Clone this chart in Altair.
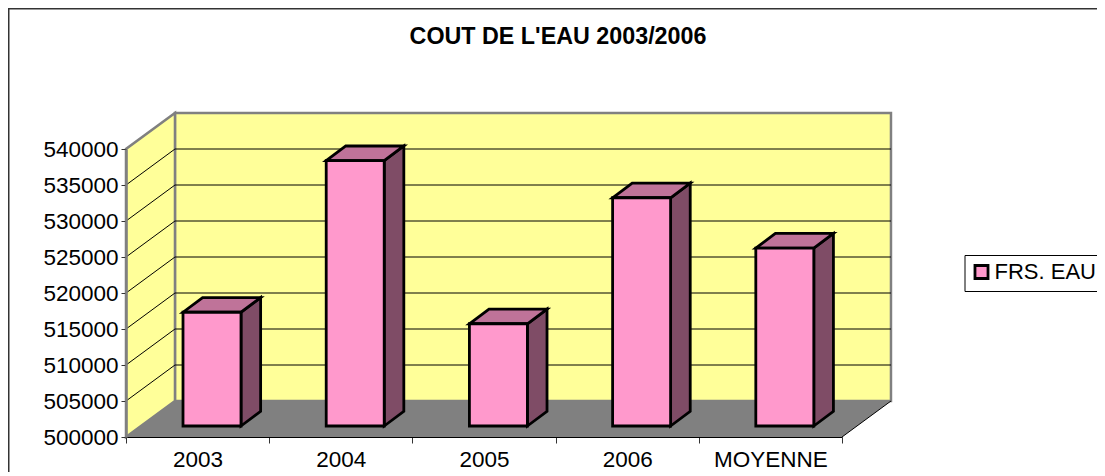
import altair as alt
import pandas as pd

FONT = "Liberation Sans"
FS = 22.5
categories = ["2003", "2004", "2005", "2006", "MOYENNE"]
values = [515800, 536850, 514200, 531700, 524700]
series_name = "FRS. EAU"
y_ticks = [500000, 505000, 510000, 515000, 520000, 525000, 530000, 535000, 540000]
BASE, TOP = 500000, 540000

# 3-D projection, in data units (category slots / currency)
WALL_DX, WALL_DY = 0.342, 5000
BAR_OFF_DX, BAR_OFF_DY = 0.1006, 1528
BAR_DX, BAR_DY = 0.137, 2040
BAR_W = 0.405

GRAY = "#808080"

xs = alt.Scale(domain=[0, 5], nice=False, zero=False)
ys = alt.Scale(domain=[BASE, TOP], nice=False, zero=False)
y_axis = alt.Axis(values=y_ticks, labelFont=FONT, labelFontSize=FS, labelColor="#000000",
                  tickColor="#333333", tickSize=5, domainColor=GRAY, domainWidth=2.5,
                  labelPadding=3, grid=False, zindex=1, format="d", labelOverlap=False)
X = alt.X("x:Q", scale=xs, axis=None)
Y = alt.Y("y:Q", scale=ys, title=None, axis=y_axis)

# back wall
back = pd.DataFrame([dict(x=WALL_DX, x2=5 + WALL_DX, y=BASE + WALL_DY, y2=TOP + WALL_DY)])
back_l = alt.Chart(back).mark_rect(fill="#FFFF99", stroke=GRAY, strokeWidth=2.5).encode(
    x=X, x2="x2:Q", y=Y, y2="y2:Q")

# side wall
side = pd.DataFrame([
    dict(x=0, y=BASE, y2=TOP),
    dict(x=WALL_DX, y=BASE + WALL_DY, y2=TOP + WALL_DY),
])
side_l = alt.Chart(side).mark_area(fill="#FFFF99", stroke=GRAY, strokeWidth=2.5).encode(
    x=X, y=Y, y2="y2:Q")

# grid lines
grid_rows = []
for t in y_ticks[1:-1]:
    grid_rows.append(dict(x=WALL_DX, x2=5 + WALL_DX, y=t + WALL_DY, y2=t + WALL_DY))
    grid_rows.append(dict(x=0, x2=WALL_DX, y=t, y2=t + WALL_DY))
grid_l = alt.Chart(pd.DataFrame(grid_rows)).mark_rule(color="#000000", strokeWidth=1).encode(
    x=X, x2="x2:Q", y=Y, y2="y2:Q")

# floor
floor = pd.DataFrame([
    dict(y=BASE, x=0, x2=5),
    dict(y=BASE + WALL_DY, x=WALL_DX, x2=5 + WALL_DX),
])
floor_l = alt.Chart(floor).mark_area(orient="horizontal", fill=GRAY).encode(
    y=Y, x=X, x2="x2:Q")
floor_edge = alt.Chart(pd.DataFrame([dict(x=5, x2=5 + WALL_DX, y=BASE, y2=BASE + WALL_DY)])).mark_rule(
    color="#000000", strokeWidth=1).encode(x=X, x2="x2:Q", y=Y, y2="y2:Q")

# bars
front_rows, side_rows, top_rows = [], [], []
for i, (c, v) in enumerate(zip(categories, values)):
    left = i + (1 - BAR_W) / 2 + BAR_OFF_DX
    right = left + BAR_W
    front_rows.append(dict(cat=c, series=series_name, x=left, x2=right,
                           y=BASE + BAR_OFF_DY, y2=v + BAR_OFF_DY))
    side_rows += [
        dict(cat=c, x=right, y=BASE + BAR_OFF_DY, y2=v + BAR_OFF_DY),
        dict(cat=c, x=right + BAR_DX, y=BASE + BAR_OFF_DY + BAR_DY, y2=v + BAR_OFF_DY + BAR_DY),
    ]
    top_rows += [
        dict(cat=c, y=v + BAR_OFF_DY, x=left, x2=right),
        dict(cat=c, y=v + BAR_OFF_DY + BAR_DY, x=left + BAR_DX, x2=right + BAR_DX),
    ]

STROKE = dict(stroke="#000000", strokeWidth=2.8, strokeJoin="miter")
bar_side = alt.Chart(pd.DataFrame(side_rows)).mark_area(fill="#7F4C66", **STROKE).encode(
    x=X, y=Y, y2="y2:Q", detail="cat:N")
bar_top = alt.Chart(pd.DataFrame(top_rows)).mark_area(orient="horizontal", fill="#BF7399", **STROKE).encode(
    y=Y, x=X, x2="x2:Q", detail="cat:N")
bar_front = alt.Chart(pd.DataFrame(front_rows)).mark_rect(**STROKE).encode(
    x=X, x2="x2:Q", y=Y, y2="y2:Q",
    fill=alt.Fill("series:N", scale=alt.Scale(domain=[series_name], range=["#FF99CC"]),
                  legend=alt.Legend(
                      title=None, orient="none", legendX=838.5, legendY=106,
                      strokeColor="#000000", padding=6, symbolType="square",
                      symbolSize=170, symbolStrokeColor="#000000", symbolStrokeWidth=2.8,
                      labelFont=FONT, labelFontSize=22, labelColor="#000000", labelOffset=2)),
)

# axes
axes_df = pd.DataFrame(dict(cat=categories, y=[BASE] * len(categories)))
axes_l = alt.Chart(axes_df).mark_point(opacity=0).encode(
    x=alt.X("cat:N", sort=categories, title=None,
            scale=alt.Scale(type="band", paddingInner=0, paddingOuter=0),
            axis=alt.Axis(tickBand="extent", labelAngle=0, labelFont=FONT, labelFontSize=FS,
                          labelColor="#000000", tickColor="#333333", tickSize=6,
                          domainColor="#000000", labelPadding=5, zindex=1, labelOverlap=False)),
    y=Y,
)

# outer frame of the chart
frame_left = alt.Chart(pd.DataFrame(dict(a=[0]))).mark_rule(color="#333333", strokeWidth=2).encode(
    x=alt.value(-117.5), y=alt.value(-141), y2=alt.value(330))
frame_top = alt.Chart(pd.DataFrame(dict(a=[0]))).mark_rule(color="#333333", strokeWidth=2).encode(
    y=alt.value(-140.5), x=alt.value(-118), x2=alt.value(980))

chart = alt.layer(
    axes_l, frame_left, frame_top, back_l, side_l, grid_l, floor_l, floor_edge,
    bar_side, bar_top, bar_front,
).resolve_scale(x="independent", fill="independent").properties(
    width=716, height=288,
    padding=dict(left=118, top=141, right=255, bottom=35),
    autosize=alt.AutoSizeParams(type="none"),
    background="#FFFFFF",
    title=alt.TitleParams("COUT DE L'EAU 2003/2006", font=FONT, fontSize=23.3, fontWeight="bold",
                          color="#000000", anchor="middle", dx=74, offset=0, dy=42),
).configure_view(stroke=None)

chart.save("out.html", embed_options={"renderer": "svg", "actions": False})
